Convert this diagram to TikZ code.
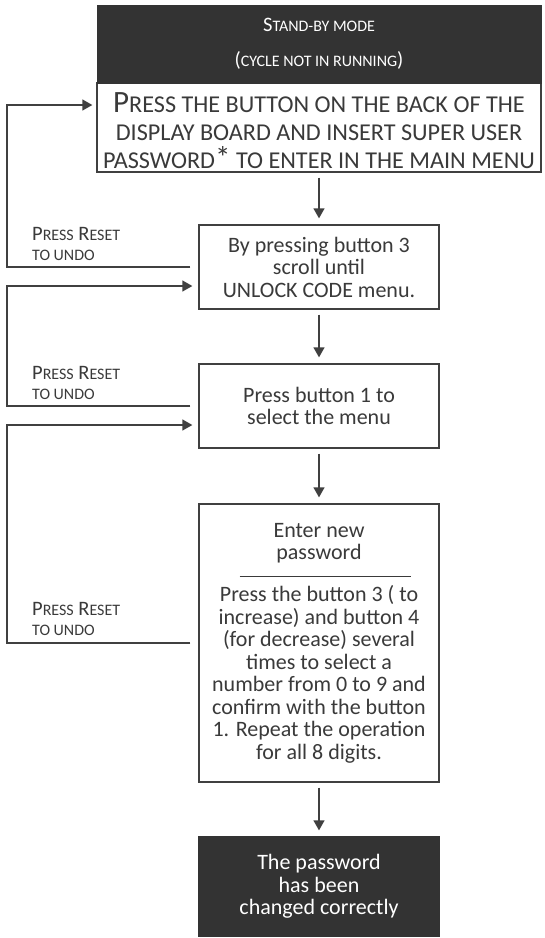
\documentclass[tikz,border=0pt]{standalone}
\usepackage{fontspec}
\setmainfont{Carlito}
\usetikzlibrary{arrows.meta}

\definecolor{boxdark}{HTML}{333333}
\definecolor{linegray}{HTML}{404040}
\definecolor{textgray}{HTML}{3A3A3A}

% fake small caps: upper case set at 78% of the current size
\makeatletter
\newcommand\fsc[1]{{\fontsize{\fpeval{0.78*\f@size}}{\f@baselineskip}\selectfont #1}}
\makeatother

\begin{document}
\begin{tikzpicture}[x=1pt, y=-1pt,
  darkbox/.style={fill=boxdark, draw=boxdark, text=white, inner sep=0pt, align=center},
  stepbox/.style={draw=linegray, line width=1.3pt, fill=white, text=textgray, inner sep=0pt,
    minimum width=240pt, align=center, font=\fontsize{22}{22.5}\selectfont},
  flow/.style={-{Triangle[length=10pt,width=11pt]}, draw=linegray, line width=1.3pt},
  undo/.style={text=textgray, anchor=south west, inner sep=0pt, align=left,
    font=\fontsize{20.5}{20.5}\selectfont}]

  \useasboundingbox (0,0) rectangle (545,938);

  % === Top block: stand-by and main menu ===
  \node[stepbox, minimum width=444pt, minimum height=89pt, font=\fontsize{31}{28}\selectfont] (menu) at (319,127.5)
    {\rule{0pt}{26pt}P\fsc{RESS THE BUTTON ON THE BACK OF THE}\\
     \fsc{DISPLAY BOARD AND INSERT SUPER USER}\\
     \fsc{PASSWORD}*\fsc{ TO ENTER IN THE MAIN MENU}};
  \node[darkbox, minimum width=444pt, minimum height=78pt, font=\fontsize{20.5}{35}\selectfont] (standby) at (319,44)
    {S\fsc{TAND-BY MODE}\\(\fsc{CYCLE NOT IN RUNNING})};

  % === Steps ===
  \node[stepbox, minimum height=84pt] (unlock) at (319,267)
    {By pressing button 3\\scroll until\\UNLOCK CODE menu.};
  \node[stepbox, minimum height=84pt] (select) at (319,406)
    {Press button 1 to\\select the menu};
  \node[stepbox, minimum height=278pt] (newpwd) at (319,643)
    {Enter new\\password\\
     \hspace*{12pt}\raisebox{5pt}{\rule{171pt}{1.4pt}}\\[-3pt]
     Press the button 3 ( to\\increase) and button 4\\(for decrease) several\\times to select a\\
     number from 0 to 9 and\\confirm with the button\\1. Repeat the operation\\for all 8 digits.};
  \node[stepbox, darkbox, minimum height=99pt] (done) at (319,886.5)
    {The password\\has been\\changed correctly};

  % === Forward arrows ===
  \draw[flow, shorten <=5pt, shorten >=6pt] (menu) -- (unlock);
  \draw[flow, shorten <=5pt, shorten >=6pt] (unlock) -- (select);
  \draw[flow, shorten <=5pt, shorten >=6pt] (select) -- (newpwd);
  \draw[flow, shorten <=5pt, shorten >=6pt] (newpwd) -- (done);

  % === Undo paths (back to the previous step) ===
  \coordinate (rail1) at (7,105);
  \coordinate (rail2) at (7,286);
  \coordinate (rail3) at (7,425);
  \foreach \from/\to/\rail/\gap in {unlock/menu/rail1/4pt, select/unlock/rail2/6pt, newpwd/select/rail3/6pt} {
    \draw[flow, shorten <=8pt, shorten >=\gap] (\from.west) -| (\rail) -- (\rail -| \to.west);
  }

  % Labels
  \foreach \y/\n in {261/1, 400/2, 636/3} {
    \node[undo] (reset\n) at (32,\y) {P\fsc{RESS} R\fsc{ESET}\\\fsc{TO UNDO}};
  }

\end{tikzpicture}
\end{document}
